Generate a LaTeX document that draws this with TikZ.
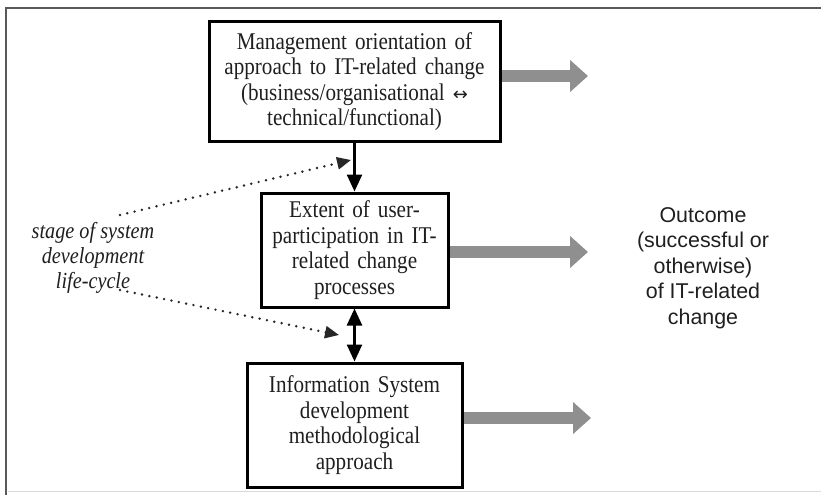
\documentclass[tikz,border=0pt]{standalone}
\usepackage{fontspec}
\setmainfont{Liberation Serif}
\newfontfamily\boxf[FakeStretch=0.88]{Liberation Serif}
\newfontfamily\sansf{Liberation Sans}
\newfontfamily\symf{DejaVu Sans}
\usetikzlibrary{arrows.meta}
\definecolor{txt}{gray}{0.12}
\definecolor{fatgray}{gray}{0.56}
\definecolor{framec}{gray}{0.35}
\tikzset{
  boxnode/.style={draw=black, line width=3pt, inner sep=0pt, align=center,
    font=\boxf\fontsize{24}{25.5}\selectfont, text=txt},
  fatarrow/.style={draw=fatgray, line width=12pt, -{Triangle[width=31pt,length=18pt]}},
  blkarrow/.style={draw=black, line width=2.5pt, -{Triangle[width=15pt,length=17pt]}},
  dblarrow/.style={draw=black, line width=2.5pt, {Triangle[width=15pt,length=17pt]}-{Triangle[width=15pt,length=17pt]}},
  dotarrow/.style={draw=black!85, line width=2.7pt, line cap=round, dash pattern=on 0pt off 7.5pt,
    -{Triangle[width=12pt,length=14pt]}},
}
\begin{document}
\begin{tikzpicture}[x=1pt,y=-1pt]
\useasboundingbox (0,0) rectangle (821,495);
% frame
\draw[framec, line width=2pt] (821,8) -- (6,8) -- (6,495);
\draw[gray!30, line width=1pt] (8,491) -- (821,491);

\node[boxnode, minimum width=291pt, minimum height=119pt, text width=285pt] (b1) at (354.5,81.5)
  {Management orientation of\\ approach to IT-related change\\ (business/organisational {\symf\fontsize{18}{20}\selectfont ↔}\\ technical/functional)};
\node[boxnode, minimum width=187pt, minimum height=114pt, text width=183pt] (b2) at (354.5,250)
  {Extent of user-\\ participation in IT-\\ related change\\ processes};
\node[boxnode, minimum width=215pt, minimum height=124pt, text width=210pt] (b3) at (354.5,425)
  {Information System\\ development\\ methodological\\ approach};

\node[align=center, font=\boxf\fontsize{23}{25}\selectfont\itshape, text=txt, inner sep=0pt] (lbl) at (93,258)
  {stage of system\\ development\\ life-cycle};
\node[align=center, font=\sansf\fontsize{21.4}{25.5}\selectfont, text=txt, inner sep=0pt] (out) at (703,268)
  {Outcome\\ (successful or\\ otherwise)\\ of IT-related\\ change};

\coordinate (o1) at (588,76);
\coordinate (o2) at (588,252);
\coordinate (o3) at (591,418);
\draw[fatarrow] (o1 -| b1.east) -- (o1);
\draw[fatarrow] (o2 -| b2.east) -- (o2);
\draw[fatarrow] (o3 -| b3.east) -- (o3);

\draw[blkarrow] (b1.south) -- (b2.north);
\draw[dblarrow] (b2.south) -- (b3.north);

\coordinate (d1s) at (120,215);
\coordinate (d1e) at (351,160);
\coordinate (d2s) at (120,290);
\coordinate (d2e) at (339,335);
\draw[dotarrow] (d1s) -- (d1e);
\draw[dotarrow] (d2s) -- (d2e);
\end{tikzpicture}
\end{document}
